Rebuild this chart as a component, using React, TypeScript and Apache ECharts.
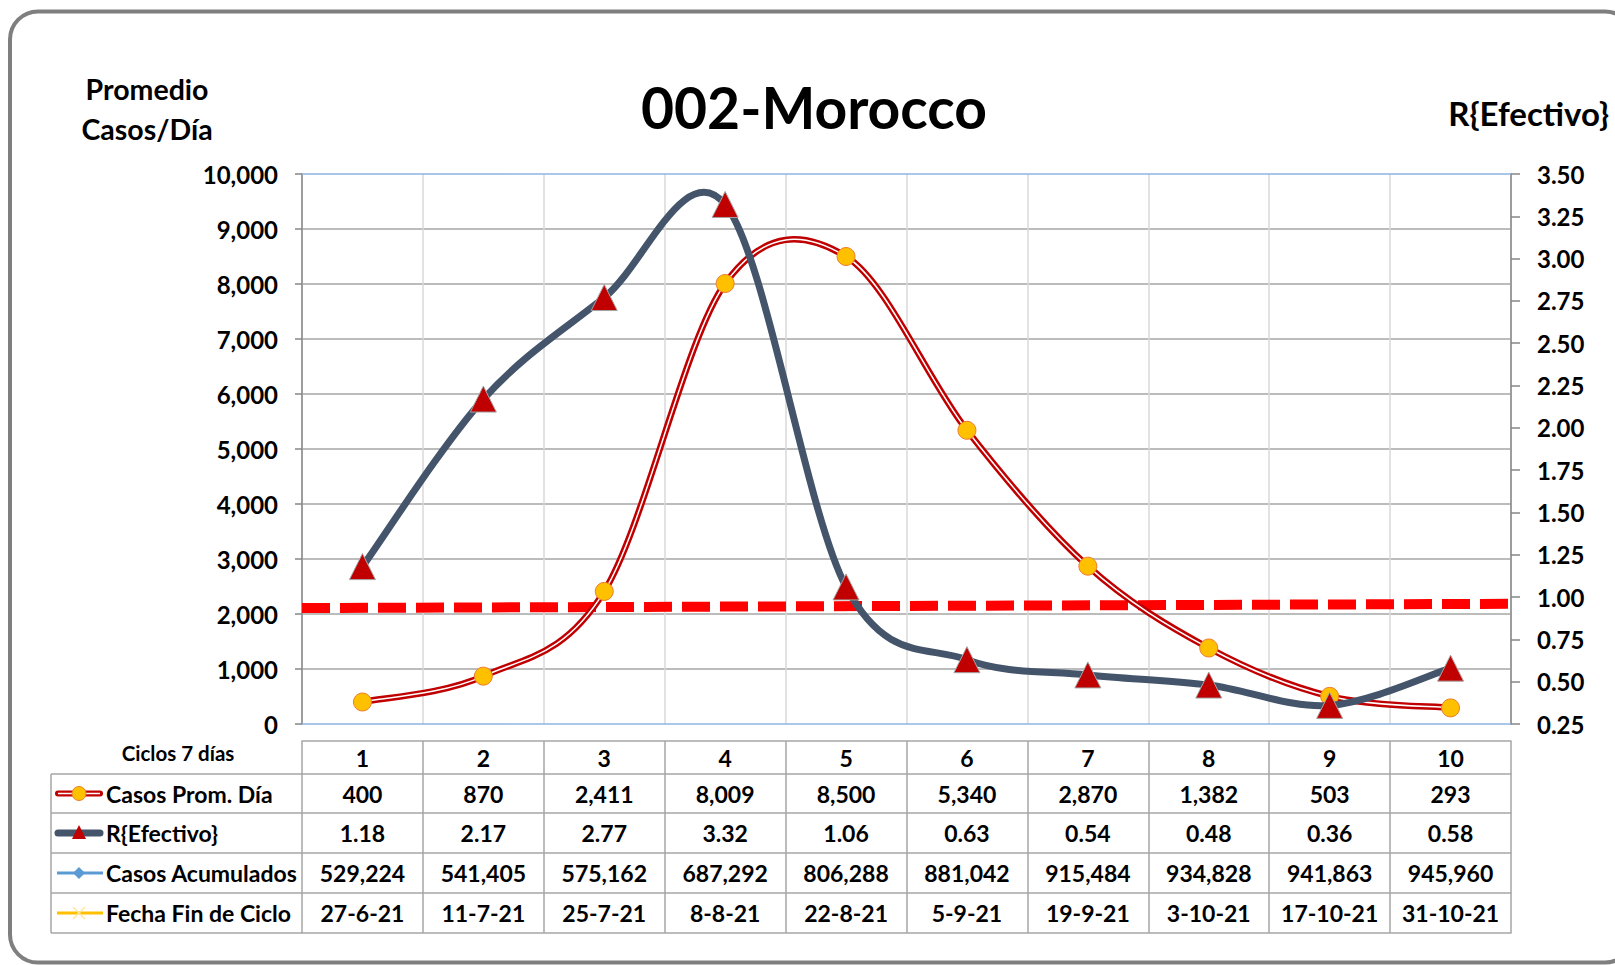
import React, { useEffect, useRef } from 'react';
import * as echarts from 'echarts';

// ---------------- data ----------------
const cycles = ['1', '2', '3', '4', '5', '6', '7', '8', '9', '10'];
const casosPromDia = [400, 870, 2411, 8009, 8500, 5340, 2870, 1382, 503, 293];
const rEfectivo = [1.18, 2.17, 2.77, 3.32, 1.06, 0.63, 0.54, 0.48, 0.36, 0.58];
const casosAcumulados = [529224, 541405, 575162, 687292, 806288, 881042, 915484, 934828, 941863, 945960];
const fechaFinCiclo = ['27-6-21', '11-7-21', '25-7-21', '8-8-21', '22-8-21', '5-9-21', '19-9-21', '3-10-21', '17-10-21', '31-10-21'];
const rThresholdLine = [[0, 0.935], [1, 0.96]];

const titleText = '002-Morocco';
const leftAxisTitle = 'Promedio\nCasos/Día';
const rightAxisTitle = 'R{Efectivo}';
const headerLabel = 'Ciclos 7 días';
const rowLabels = ['Casos Prom. Día', 'R{Efectivo}', 'Casos Acumulados', 'Fecha Fin de Ciclo'];

// ---------------- layout ----------------
const FONT = 'Lato, "Noto Sans", sans-serif';
const G_LEFT = 302;
const G_TOP = 174;
const G_W = 1209;
const G_H = 550;
const G_BOTTOM = G_TOP + G_H; // 724
const ROW_LINES = [741, 774, 813, 853, 893, 933];
const TABLE_LEFT = 51;
const GRAY = '#A6A6A6';
const TABLE_FONT = 23;

const fmtInt = (v: number) => v.toLocaleString('en-US');

function rowAxis(idx: number, data: string[]) {
  const top = ROW_LINES[idx];
  const h = ROW_LINES[idx + 1] - top;
  return {
    type: 'category',
    gridIndex: 0,
    position: 'bottom',
    offset: top - G_BOTTOM,
    data,
    boundaryGap: true,
    axisLine: { show: true, lineStyle: { color: GRAY, width: 1.5 } },
    axisTick: { show: true, inside: false, length: h, interval: 0, lineStyle: { color: GRAY, width: 1.5 } },
    axisLabel: {
      show: true,
      interval: 0,
      margin: h / 2,
      verticalAlign: 'middle',
      fontFamily: FONT,
      fontWeight: 'bold',
      fontSize: TABLE_FONT,
      color: '#000',
    },
    splitLine: { show: false },
  };
}

// Excel-like smoothed line (Catmull-Rom converted to cubic Bezier), drawn segment by segment
function smoothSegmentRenderer(values: number[], layers: { stroke: string; width: number; cap: string }[]) {
  return (params: any, api: any) => {
    const i = params.dataIndex;
    const n = values.length;
    if (i >= n - 1) return null;
    const pt = (k: number) => {
      const kk = Math.max(0, Math.min(n - 1, k));
      return api.coord([kk, values[kk]]);
    };
    const p0 = pt(i - 1);
    const p1 = pt(i);
    const p2 = pt(i + 1);
    const p3 = pt(i + 2);
    const cp1 = [p1[0] + (p2[0] - p0[0]) / 6, p1[1] + (p2[1] - p0[1]) / 6];
    const cp2 = [p2[0] - (p3[0] - p1[0]) / 6, p2[1] - (p3[1] - p1[1]) / 6];
    return {
      type: 'group',
      children: layers.map((l) => ({
        type: 'bezierCurve',
        shape: {
          x1: p1[0], y1: p1[1], x2: p2[0], y2: p2[1],
          cpx1: cp1[0], cpy1: cp1[1], cpx2: cp2[0], cpy2: cp2[1],
        },
        style: { stroke: l.stroke, lineWidth: l.width, fill: 'none', lineCap: l.cap },
        silent: true,
      })),
    };
  };
}

function buildOption() {
  const rowCenters = ROW_LINES.slice(1, 5).map((y, i) => (y + ROW_LINES[i + 2]) / 2);
  const iconL = 55;
  const iconR = 103;
  const iconC = 79;

  const graphics: any[] = [
    {
      type: 'rect',
      shape: { x: 10, y: 11.5, width: 1623, height: 951, r: 28 },
      style: { fill: 'transparent', stroke: '#7F7F7F', lineWidth: 4 },
      silent: true,
    },
    {
      type: 'text',
      x: 147,
      y: 109,
      style: {
        text: leftAxisTitle,
        fontFamily: FONT,
        fontWeight: 'bold',
        fontSize: 28.5,
        lineHeight: 40,
        fill: '#000',
        align: 'center',
        verticalAlign: 'middle',
      },
    },
    {
      type: 'text',
      x: 1609,
      y: 113,
      style: {
        text: rightAxisTitle,
        fontFamily: FONT,
        fontWeight: 'bold',
        fontSize: 33,
        fill: '#000',
        align: 'right',
        verticalAlign: 'middle',
      },
    },
    {
      type: 'text',
      x: 178,
      y: 753,
      style: {
        text: headerLabel,
        fontFamily: FONT,
        fontWeight: 'bold',
        fontSize: 20.5,
        fill: '#000',
        align: 'center',
        verticalAlign: 'middle',
      },
    },
    ...ROW_LINES.slice(1).map((y) => ({
      type: 'line',
      shape: { x1: TABLE_LEFT, y1: y, x2: G_LEFT, y2: y },
      style: { stroke: GRAY, lineWidth: 1.5 },
    })),
    {
      type: 'line',
      shape: { x1: TABLE_LEFT, y1: ROW_LINES[1], x2: TABLE_LEFT, y2: ROW_LINES[5] },
      style: { stroke: GRAY, lineWidth: 1.5 },
    },
    ...rowLabels.map((t, i) => ({
      type: 'text',
      x: 106,
      y: rowCenters[i],
      style: {
        text: t,
        fontFamily: FONT,
        fontWeight: 'bold',
        fontSize: TABLE_FONT,
        fill: '#000',
        align: 'left',
        verticalAlign: 'middle',
      },
    })),
    {
      type: 'line',
      shape: { x1: iconL + 3, y1: rowCenters[0], x2: iconR - 3, y2: rowCenters[0] },
      style: { stroke: '#C00000', lineWidth: 6, lineCap: 'round' },
    },
    {
      type: 'line',
      shape: { x1: iconL + 3, y1: rowCenters[0], x2: iconR - 3, y2: rowCenters[0] },
      style: { stroke: '#FFFFFF', lineWidth: 1.5 },
    },
    {
      type: 'circle',
      shape: { cx: iconC, cy: rowCenters[0], r: 7 },
      style: { fill: '#FFC000', stroke: '#ED7D31', lineWidth: 1 },
    },
    {
      type: 'line',
      shape: { x1: iconL + 3, y1: rowCenters[1], x2: iconR - 3, y2: rowCenters[1] },
      style: { stroke: '#44546A', lineWidth: 7, lineCap: 'round' },
    },
    {
      type: 'polygon',
      shape: { points: [[iconC, rowCenters[1] - 8], [iconC - 7, rowCenters[1] + 6], [iconC + 7, rowCenters[1] + 6]] },
      style: { fill: '#C00000' },
    },
    {
      type: 'line',
      shape: { x1: iconL + 2, y1: rowCenters[2], x2: iconR, y2: rowCenters[2] },
      style: { stroke: '#5B9BD5', lineWidth: 3 },
    },
    {
      type: 'polygon',
      shape: { points: [[iconC, rowCenters[2] - 6], [iconC + 6, rowCenters[2]], [iconC, rowCenters[2] + 6], [iconC - 6, rowCenters[2]]] },
      style: { fill: '#5B9BD5' },
    },
    {
      type: 'line',
      shape: { x1: iconL + 2, y1: rowCenters[3], x2: iconR, y2: rowCenters[3] },
      style: { stroke: '#FFC000', lineWidth: 3 },
    },
    {
      type: 'line',
      shape: { x1: iconC - 6, y1: rowCenters[3] - 6, x2: iconC + 6, y2: rowCenters[3] + 6 },
      style: { stroke: '#FFE699', lineWidth: 1.5 },
    },
    {
      type: 'line',
      shape: { x1: iconC - 6, y1: rowCenters[3] + 6, x2: iconC + 6, y2: rowCenters[3] - 6 },
      style: { stroke: '#FFE699', lineWidth: 1.5 },
    },
  ];

  const axisLabelBase = { fontFamily: FONT, fontWeight: 'bold', fontSize: 24, color: '#000' };

  return {
    animation: false,
    backgroundColor: '#FFFFFF',
    title: {
      text: titleText,
      left: 636,
      top: 73,
      textStyle: { fontFamily: FONT, fontWeight: 'bold', fontSize: 57, color: '#000' },
    },
    grid: { left: G_LEFT, top: G_TOP, width: G_W, height: G_H, containLabel: false },
    xAxis: [
      {
        type: 'category',
        data: cycles,
        boundaryGap: true,
        position: 'bottom',
        axisLine: { show: true, lineStyle: { color: '#8DB4E2', width: 1.5 } },
        axisTick: { show: false },
        axisLabel: { show: false },
        splitLine: { show: true, interval: 0, lineStyle: { color: '#D9D9D9', width: 1.5 } },
      },
      {
        type: 'category',
        data: cycles,
        boundaryGap: true,
        position: 'top',
        axisLine: { show: true, lineStyle: { color: '#8DB4E2', width: 1.5 } },
        axisTick: { show: false },
        axisLabel: { show: false },
        splitLine: { show: false },
      },
      rowAxis(0, cycles),
      rowAxis(1, casosPromDia.map(fmtInt)),
      rowAxis(2, rEfectivo.map((v) => v.toFixed(2))),
      rowAxis(3, casosAcumulados.map(fmtInt)),
      rowAxis(4, fechaFinCiclo),
      {
        type: 'category',
        position: 'bottom',
        offset: ROW_LINES[5] - G_BOTTOM,
        data: cycles,
        axisLine: { show: true, lineStyle: { color: GRAY, width: 1.5 } },
        axisTick: { show: false },
        axisLabel: { show: false },
        splitLine: { show: false },
      },
      { type: 'value', min: 0, max: 1, show: false, splitLine: { show: false } },
    ],
    yAxis: [
      {
        type: 'value',
        min: 0,
        max: 10000,
        interval: 1000,
        position: 'left',
        axisLine: { show: true, lineStyle: { color: '#868686', width: 1.5 } },
        axisTick: { show: true, inside: false, length: 7, lineStyle: { color: '#868686', width: 1.5 } },
        axisLabel: { margin: 24, formatter: (v: number) => fmtInt(v), ...axisLabelBase },
        splitLine: { show: true, showMinLine: false, showMaxLine: false, lineStyle: { color: '#A6A6A6', width: 1.5 } },
      },
      {
        type: 'value',
        min: 0.25,
        max: 3.5,
        interval: 0.25,
        position: 'right',
        axisLine: { show: true, lineStyle: { color: '#868686', width: 1.5 } },
        axisTick: { show: true, inside: false, length: 9, lineStyle: { color: '#868686', width: 1.5 } },
        axisLabel: { margin: 26, formatter: (v: number) => v.toFixed(2), ...axisLabelBase },
        splitLine: { show: false },
      },
    ],
    series: [
      {
        name: 'R = 1',
        type: 'line',
        xAxisIndex: 8,
        yAxisIndex: 1,
        data: rThresholdLine,
        symbol: 'none',
        lineStyle: { color: '#FF0000', width: 10, type: [28, 10], cap: 'butt' },
        z: 1,
      },
      {
        name: 'Casos Prom. Día (line)',
        type: 'custom',
        xAxisIndex: 0,
        yAxisIndex: 0,
        data: casosPromDia.map((v, i) => [i, v]),
        renderItem: smoothSegmentRenderer(casosPromDia, [
          { stroke: '#C00000', width: 6.5, cap: 'round' },
          { stroke: '#FFFFFF', width: 1.5, cap: 'round' },
        ]),
        z: 2,
      },
      {
        name: 'Casos Prom. Día',
        type: 'scatter',
        xAxisIndex: 0,
        yAxisIndex: 0,
        data: casosPromDia,
        symbol: 'circle',
        symbolSize: 18,
        itemStyle: { color: '#FFC000', borderColor: '#ED7D31', borderWidth: 1, opacity: 1 },
        z: 3,
      },
      {
        name: 'R{Efectivo} (line)',
        type: 'custom',
        xAxisIndex: 0,
        yAxisIndex: 1,
        data: rEfectivo.map((v, i) => [i, v]),
        renderItem: smoothSegmentRenderer(rEfectivo, [{ stroke: '#44546A', width: 7, cap: 'round' }]),
        z: 4,
      },
      {
        name: 'R{Efectivo}',
        type: 'scatter',
        xAxisIndex: 0,
        yAxisIndex: 1,
        data: rEfectivo,
        symbol: 'triangle',
        symbolSize: [26, 26],
        itemStyle: { color: '#C00000', borderColor: '#A5A5A5', borderWidth: 1, opacity: 1 },
        z: 5,
      },
    ],
    graphic: graphics,
  };
}

export default function App() {
  const ref = useRef<HTMLDivElement>(null);
  useEffect(() => {
    if (!ref.current) return;
    const chart = echarts.init(ref.current, undefined, { renderer: 'svg' });
    chart.setOption(buildOption() as any);
    return () => chart.dispose();
  }, []);
  return (
    <div
      ref={ref}
      style={{ position: 'fixed', left: 0, top: 0, width: 1615, height: 965, background: '#fff' }}
    />
  );
}
